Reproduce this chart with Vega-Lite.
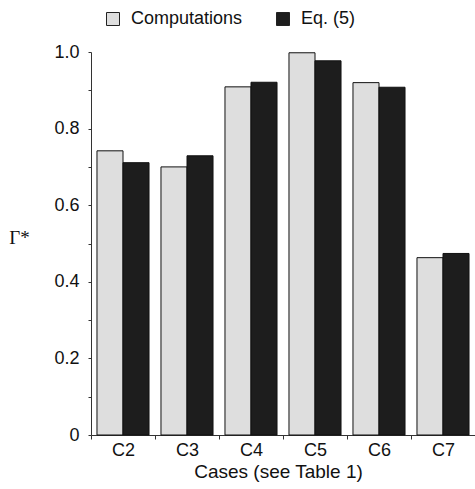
{
  "$schema": "https://vega.github.io/schema/vega-lite/v6.json",
  "autosize": "none",
  "padding": {"left": 91, "top": 52, "right": 0, "bottom": 54},
  "width": 384,
  "height": 383,
  "background": "white",
  "data": {
    "values": [
      {"case": "C2", "series": "Computations", "value": 0.742},
      {"case": "C2", "series": "Eq. (5)", "value": 0.711},
      {"case": "C3", "series": "Computations", "value": 0.700},
      {"case": "C3", "series": "Eq. (5)", "value": 0.729},
      {"case": "C4", "series": "Computations", "value": 0.909},
      {"case": "C4", "series": "Eq. (5)", "value": 0.921},
      {"case": "C5", "series": "Computations", "value": 0.998},
      {"case": "C5", "series": "Eq. (5)", "value": 0.977},
      {"case": "C6", "series": "Computations", "value": 0.920},
      {"case": "C6", "series": "Eq. (5)", "value": 0.908},
      {"case": "C7", "series": "Computations", "value": 0.463},
      {"case": "C7", "series": "Eq. (5)", "value": 0.474}
    ]
  },
  "mark": {"type": "bar", "stroke": "#111111", "strokeWidth": 1},
  "encoding": {
    "x": {
      "field": "case",
      "type": "nominal",
      "scale": {"paddingInner": 0, "paddingOuter": 0},
      "axis": {
        "title": "Cases (see Table 1)",
        "titleFont": "Liberation Sans",
        "titleFontSize": 19,
        "titleFontWeight": "normal",
        "titleColor": "#111111",
        "titlePadding": 3,
        "titleX": 187,
        "labelFont": "Liberation Sans",
        "labelFontSize": 18,
        "labelColor": "#111111",
        "labelAngle": 0,
        "labelPadding": 2,
        "tickBand": "extent",
        "tickSize": 4,
        "tickColor": "#333333",
        "domainColor": "#333333",
        "grid": false
      }
    },
    "xOffset": {
      "field": "series",
      "type": "nominal",
      "scale": {"paddingInner": 0, "paddingOuter": 0.23}
    },
    "y": {
      "field": "value",
      "type": "quantitative",
      "scale": {"domain": [0, 1], "nice": false, "zero": true},
      "axis": {
        "title": "Γ*",
        "titleFont": "Liberation Serif",
        "titleFontSize": 19,
        "titleFontWeight": "normal",
        "titleColor": "#111111",
        "titleAngle": 0,
        "titleX": -72,
        "titleY": 195,
        "titleAlign": "center",
        "values": [0, 0.1, 0.2, 0.3, 0.4, 0.5, 0.6, 0.7, 0.8, 0.9, 1.0],
        "labelExpr": "datum.value == 0 ? '0' : (round(datum.value * 10) % 2 == 0 ? format(datum.value, '.1f') : '')",
        "labelFont": "Liberation Sans",
        "labelFontSize": 18,
        "labelColor": "#111111",
        "labelPadding": 9,
        "tickSize": 3,
        "tickColor": "#333333",
        "domainColor": "#333333",
        "grid": false
      }
    },
    "color": {
      "field": "series",
      "type": "nominal",
      "sort": ["Computations", "Eq. (5)"],
      "scale": {"domain": ["Computations", "Eq. (5)"], "range": ["#dedede", "#1d1d1d"]},
      "legend": {
        "title": null,
        "orient": "none",
        "direction": "horizontal",
        "legendX": 13,
        "legendY": -42,
        "symbolType": "square",
        "symbolSize": 169,
        "symbolStrokeColor": "#222222",
        "symbolStrokeWidth": 1,
        "symbolOpacity": 1,
        "labelFont": "Liberation Sans",
        "labelFontSize": 18,
        "labelColor": "#111111",
        "labelOffset": 9,
        "columnPadding": 31
      }
    }
  },
  "config": {"view": {"stroke": null}}
}
